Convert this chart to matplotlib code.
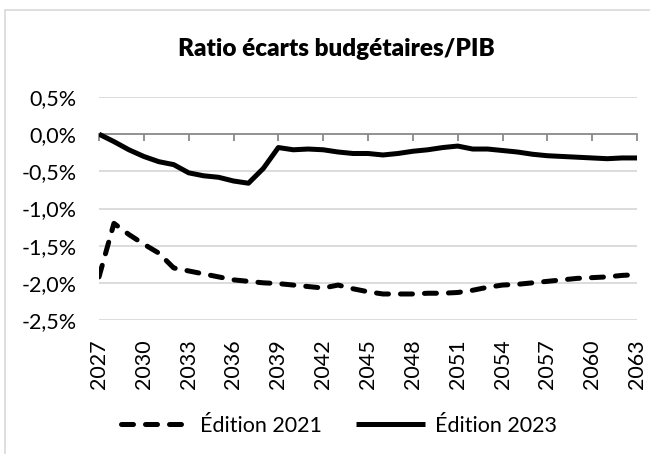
import numpy as np
import matplotlib.pyplot as plt
from matplotlib.ticker import FuncFormatter
from matplotlib.patches import Rectangle

plt.rcParams['font.family'] = ['Lato', 'DejaVu Sans']

annees = list(range(2027, 2064))
edition_2021 = [-1.92, -1.20, -1.35, -1.48, -1.60, -1.80, -1.84, -1.88, -1.92, -1.96,
                -1.98, -2.00, -2.01, -2.03, -2.05, -2.07, -2.03, -2.08, -2.12, -2.15,
                -2.15, -2.15, -2.14, -2.14, -2.13, -2.10, -2.06, -2.03, -2.02, -2.00,
                -1.98, -1.96, -1.94, -1.93, -1.92, -1.90, -1.89]
edition_2023 = [0.00, -0.10, -0.21, -0.30, -0.37, -0.41, -0.52, -0.56, -0.58, -0.63,
                -0.66, -0.46, -0.18, -0.21, -0.20, -0.21, -0.24, -0.26, -0.26, -0.28,
                -0.26, -0.23, -0.21, -0.18, -0.16, -0.20, -0.20, -0.22, -0.24, -0.27,
                -0.29, -0.30, -0.31, -0.32, -0.33, -0.32, -0.32]
y_ticks = [0.5, 0.0, -0.5, -1.0, -1.5, -2.0, -2.5]
x_ticks = annees[::3]

fig = plt.figure(figsize=(6.5, 4.54), dpi=100)
ax = fig.add_axes([99/650, 1-320/454, (637-99)/650, (320-97)/454])

# cadre du graphique
fig.patches.append(Rectangle((5/650, -0.2), 1.2, 1.2 - 10/454, transform=fig.transFigure,
                             fill=False, edgecolor='#d9d9d9', linewidth=1.2))

for v in y_ticks:
    if v != 0:
        ax.axhline(v, color='#d9d9d9', linewidth=1.3, zorder=0)

ax.plot(annees, edition_2021, color='black', linewidth=3.6, linestyle=(0, (2.4, 2.4)),
        dash_capstyle='round', label='Édition 2021', zorder=3)
ax.plot(annees, edition_2023, color='black', linewidth=3.6, solid_capstyle='butt',
        label='Édition 2023', zorder=3)

ax.set_xlim(2027, 2063)
ax.set_ylim(-2.5, 0.5)
ax.set_yticks(y_ticks)
ax.yaxis.set_major_formatter(FuncFormatter(lambda v, p: f'{v:.1f}%'.replace('.', ',')))
ax.tick_params(axis='y', length=0, pad=16, labelsize=15.5)

for s in ['top', 'right', 'left']:
    ax.spines[s].set_visible(False)
ax.spines['bottom'].set_position(('data', 0))
ax.spines['bottom'].set_color('#898989')
ax.spines['bottom'].set_linewidth(1.3)
ax.spines['bottom'].set_zorder(2)
ax.set_xticks(x_ticks)
ax.tick_params(axis='x', direction='out', length=5, width=1.3, color='#898989', labelbottom=False)

sec = ax.secondary_xaxis(0)
sec.set_xticks(x_ticks)
sec.set_xticklabels([str(a) for a in x_ticks], rotation=90)
sec.tick_params(length=0, pad=14, labelsize=15.5)
sec.spines['bottom'].set_visible(False)

fig.text(336/650, 1-56/454, 'Ratio écarts budgétaires/PIB', ha='center', va='baseline',
         fontsize=17.5, fontweight='heavy')

fig.legend(loc='center', bbox_to_anchor=(339/650, 1-426/454), ncol=2, frameon=False,
           fontsize=15.5, handlelength=3.2, handletextpad=0.45, columnspacing=1.6)

fig.savefig('out.png', dpi=100)
